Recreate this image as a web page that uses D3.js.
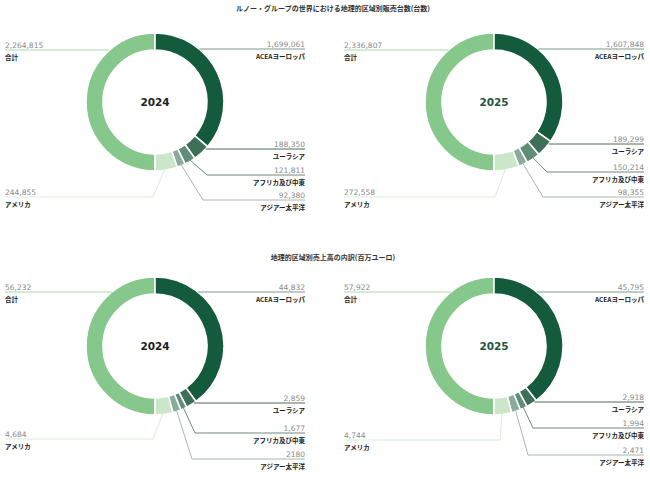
<!DOCTYPE html>
<html><head><meta charset="utf-8">
<script src="https://cdn.jsdelivr.net/npm/d3@7"></script>
<style>
html,body{margin:0;padding:0;background:#fff;}
svg{display:block;}
</style></head>
<body>
<div id="chart"></div>
<script>
// ---------- data ----------
const titles = ["ルノー・グループの世界における地理的区域別販売台数(台数)", "地理的区域別売上高の内訳(百万ユーロ)"];
const regions = ["ACEAヨーロッパ", "ユーラシア", "アフリカ及び中東", "アジアー太平洋", "アメリカ"];
const totalLabel = "合計";
const years = ["2024", "2025", "2024", "2025"];

const units2024 = [1699061, 188350, 121811, 92380, 244855];
const units2024Total = 2264815;
const units2025 = [1607848, 189299, 150214, 98355, 272558];
const units2025Total = 2336807;
const revenue2024 = [44832, 2859, 1677, 2180, 4684];
const revenue2024Total = 56232;
const revenue2025 = [45795, 2918, 1994, 2471, 4744];
const revenue2025Total = 57922;
// printed value labels (as shown in the source)
const revenue2024Labels = ["44,832", "2,859", "1,677", "2180", "4,684"];

// ---------- style ----------
const segColors = ["#145a3d", "#3e6f58", "#608d78", "#8aab9c", "#cbe6c9"];
const totalColor = "#86c78b";
const lineColors = ["#7f9a8d", "#4f6a5d", "#6f8a7d", "#a9b7b0", "#d9ecd8"];
const totalLineColor = "#a9d7ad";

const W = 650, H = 479;
const R = 69, r = 52;
const fmt = d3.format(",");

const charts = [
  {cx:155, cy:102, year:years[0], values:units2024, total:units2024Total, yearColor:"#222",
   totalDy:-52, lineDy:[-53, 47, 73, 98, 95], elbowDx:[null, null, 52, 48, -2]},
  {cx:494, cy:102, year:years[1], values:units2025, total:units2025Total, yearColor:"#1d5640",
   totalDy:-52, lineDy:[-53, 42, 70, 95, 95], elbowDx:[null, null, 53, 49, 1]},
  {cx:155, cy:346, year:years[2], values:revenue2024, total:revenue2024Total, yearColor:"#222", labels:revenue2024Labels,
   totalDy:-54, lineDy:[-54, 57, 87, 113, 93], elbowDx:[null, null, 40, 37, -2]},
  {cx:494, cy:346, year:years[3], values:revenue2025, total:revenue2025Total, yearColor:"#1d5640",
   totalDy:-54, lineDy:[-54, 56, 82, 109, 94], elbowDx:[null, null, 39, 34, 6]}
];

const svg = d3.select("#chart").append("svg").attr("width", W).attr("height", H);

const jp = "'Noto Sans CJK JP', 'Noto Sans', sans-serif";
const num = "'DejaVu Sans', sans-serif";

svg.append("text").attr("x", 333).attr("y", 11).attr("text-anchor", "middle")
  .attr("font-family", jp).attr("font-size", 7).attr("font-weight", 700).attr("fill", "#333")
  .text(titles[0]);
svg.append("text").attr("x", 333).attr("y", 260).attr("text-anchor", "middle")
  .attr("font-family", jp).attr("font-size", 7).attr("font-weight", 700).attr("fill", "#333")
  .text(titles[1]);

const pie = d3.pie().sort(null).startAngle(0).endAngle(Math.PI);
const arc = d3.arc().innerRadius(r).outerRadius(R);

charts.forEach(c => {
  const g = svg.append("g");
  const gc = g.append("g").attr("transform", `translate(${c.cx},${c.cy})`);
  const arcs = pie(c.values);

  // total half
  gc.append("path").attr("d", arc({startAngle: Math.PI, endAngle: 2 * Math.PI}))
    .attr("fill", totalColor).attr("stroke", "#fff").attr("stroke-width", 1.6);
  gc.selectAll("path.seg").data(arcs).join("path").attr("class", "seg")
    .attr("d", arc).attr("fill", (d, i) => segColors[i])
    .attr("stroke", "#fff").attr("stroke-width", 1.6);

  gc.append("text").attr("x", 0).attr("y", 4).attr("text-anchor", "middle")
    .attr("font-family", num).attr("font-weight", 700).attr("font-size", 10.5)
    .attr("fill", c.yearColor).text(c.year);

  const leftX = c.cx - 150, rightX = c.cx + 150;
  const labelsTxt = c.labels || c.values.map(fmt);

  // total leader
  const ty = c.cy + c.totalDy;
  const tx = c.cx - Math.sqrt(R * R - c.totalDy * c.totalDy);
  g.append("line").attr("x1", leftX).attr("x2", tx).attr("y1", ty).attr("y2", ty)
    .attr("stroke", totalLineColor).attr("stroke-width", 1);
  g.append("text").attr("x", leftX).attr("y", ty - 2.5).attr("font-family", num)
    .attr("font-size", 7.5).attr("fill", "#8a8a8a").text(fmt(c.total));
  g.append("text").attr("x", leftX).attr("y", ty + 10).attr("font-family", jp)
    .attr("font-size", 6.5).attr("font-weight", 700).attr("fill", "#222").text(totalLabel);

  arcs.forEach((d, i) => {
    const ly = c.cy + c.lineDy[i];
    let pts;
    const left = i === 4;
    const endX = left ? leftX : rightX;
    if (c.elbowDx[i] === null) {
      const dy = c.lineDy[i];
      const sx = c.cx + Math.sqrt(Math.max(0, R * R - dy * dy));
      pts = [[sx, ly], [endX, ly]];
    } else {
      const mid = (d.startAngle + d.endAngle) / 2;
      const sx = c.cx + (R - 3) * Math.sin(mid), sy = c.cy - (R - 3) * Math.cos(mid);
      const ex = c.cx + c.elbowDx[i];
      pts = [[sx, sy], [ex, ly], [endX, ly]];
    }
    g.append("path").attr("d", d3.line()(pts)).attr("fill", "none")
      .attr("stroke", lineColors[i]).attr("stroke-width", 1);
    const anchor = left ? "start" : "end";
    g.append("text").attr("x", endX).attr("y", ly - 2.5).attr("text-anchor", anchor)
      .attr("font-family", num).attr("font-size", 7.5).attr("fill", "#8a8a8a").text(labelsTxt[i]);
    g.append("text").attr("x", endX).attr("y", ly + 10).attr("text-anchor", anchor)
      .attr("font-family", jp).attr("font-size", 6.5).attr("font-weight", 700)
      .attr("fill", "#222").text(regions[i]);
  });
});
</script>
</body></html>
